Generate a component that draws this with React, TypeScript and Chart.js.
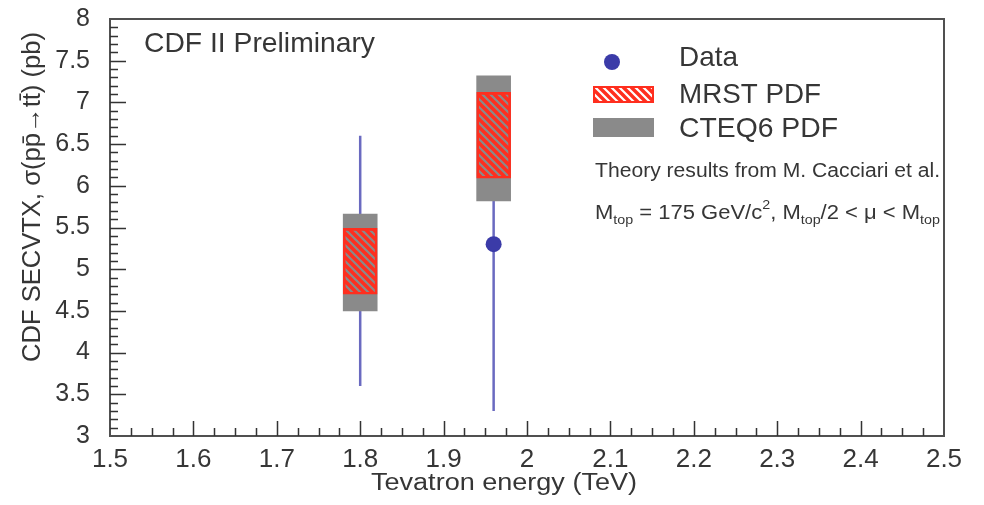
import React, { useEffect, useRef } from 'react';
import { Chart, registerables } from 'chart.js';

Chart.register(...registerables);

// Centre-of-mass energies (TeV)
const energies = [1.8, 1.96];
// Measured cross sections (pb) and their errors
const dataValues = [5.1, 5.3];
const dataErrLow = [1.5, 2.0];
const dataErrHigh = [1.5, 2.0];
// Theory bands (pb)
const cteqLow = [4.5, 5.82];
const cteqHigh = [5.66, 7.32];
const mrstLow = [4.7, 6.09];
const mrstHigh = [5.49, 7.12];
// Axis tick labels
const xTickLabels = ['1.5', '1.6', '1.7', '1.8', '1.9', '2', '2.1', '2.2', '2.3', '2.4', '2.5'];
const yTickLabels = ['3', '3.5', '4', '4.5', '5', '5.5', '6', '6.5', '7', '7.5', '8'];
const legendLabels = ['Data', 'MRST PDF', 'CTEQ6 PDF'];

const FONT = "'Liberation Sans', Arial, Helvetica, sans-serif";
const TEXT = '#363636';
const FRAME = '#505050';
const RED = '#ff2e1e';
const GRAY = '#8a8a8a';
const BLUE = '#3b3ba8';
const BAR_BLUE = '#6a6ac0';

function makeHatch(bg: string | null): CanvasPattern | string {
  const s = 8;
  const c = document.createElement('canvas');
  c.width = s;
  c.height = s;
  const g = c.getContext('2d');
  if (!g) return RED;
  if (bg) {
    g.fillStyle = bg;
    g.fillRect(0, 0, s, s);
  }
  g.strokeStyle = RED;
  g.lineWidth = 3.4;
  g.beginPath();
  g.moveTo(-2, -2);
  g.lineTo(s + 2, s + 2);
  g.moveTo(-2, s - 2);
  g.lineTo(2, s + 2);
  g.moveTo(s - 2, -2);
  g.lineTo(s + 2, 2);
  g.stroke();
  return g.createPattern(c, 'repeat') || RED;
}

type Run = { t: string; size: number; dy: number };

// Draw a sequence of text runs, squeezed or stretched to a given width
function drawRuns(ctx: CanvasRenderingContext2D, runs: Run[], x: number, y: number, width: number) {
  let total = 0;
  runs.forEach((r) => {
    ctx.font = `${r.size}px ${FONT}`;
    total += ctx.measureText(r.t).width;
  });
  const k = width / total;
  ctx.save();
  ctx.translate(x, y);
  ctx.scale(k, 1);
  ctx.textAlign = 'left';
  ctx.textBaseline = 'alphabetic';
  let cx = 0;
  runs.forEach((r) => {
    ctx.font = `${r.size}px ${FONT}`;
    ctx.fillText(r.t, cx, r.dy);
    cx += ctx.measureText(r.t).width;
  });
  ctx.restore();
}

function fitText(ctx: CanvasRenderingContext2D, t: string, size: number, x: number, y: number, width: number) {
  drawRuns(ctx, [{ t, size, dy: 0 }], x, y, width);
}

let legendHatch: CanvasPattern | string = RED;

const framePlugin = {
  id: 'cdfFrame',
  beforeDatasetsDraw(chart: any) {
    const ctx: CanvasRenderingContext2D = chart.ctx;
    const xs = chart.scales.x;
    const ys = chart.scales.y;
    ctx.save();
    ctx.strokeStyle = BAR_BLUE;
    ctx.lineWidth = 2.5;
    ctx.beginPath();
    energies.forEach((e, i) => {
      const px = xs.getPixelForValue(e);
      ctx.moveTo(px, ys.getPixelForValue(dataValues[i] - dataErrLow[i]));
      ctx.lineTo(px, ys.getPixelForValue(dataValues[i] + dataErrHigh[i]));
    });
    ctx.stroke();
    ctx.restore();
  },
  afterDraw(chart: any) {
    const ctx: CanvasRenderingContext2D = chart.ctx;
    const a = chart.chartArea;
    const xs = chart.scales.x;
    const ys = chart.scales.y;
    ctx.save();

    // frame
    ctx.strokeStyle = FRAME;
    ctx.lineWidth = 2;
    ctx.strokeRect(a.left, a.top, a.right - a.left, a.bottom - a.top);

    // inward ticks
    ctx.strokeStyle = '#333';
    ctx.lineWidth = 1.5;
    ctx.beginPath();
    const xStep = 0.025;
    const nx = Math.round((xs.max - xs.min) / xStep);
    for (let i = 1; i < nx; i++) {
      const px = Math.round(xs.getPixelForValue(xs.min + i * xStep)) + 0.5;
      const len = i % 4 === 0 ? 15 : 8;
      ctx.moveTo(px, a.bottom);
      ctx.lineTo(px, a.bottom - len);
    }
    const yStep = 0.1;
    const ny = Math.round((ys.max - ys.min) / yStep);
    for (let i = 1; i < ny; i++) {
      const py = Math.round(ys.getPixelForValue(ys.min + i * yStep)) + 0.5;
      const len = i % 5 === 0 ? 16 : 8;
      ctx.moveTo(a.left, py);
      ctx.lineTo(a.left + len, py);
    }
    ctx.stroke();

    ctx.fillStyle = TEXT;

    // header
    fitText(ctx, 'CDF II Preliminary', 28, 144, 52, 231);

    // axis titles
    fitText(ctx, 'Tevatron energy (TeV)', 23, 371, 490, 266);
    ctx.save();
    ctx.translate(40, 362);
    ctx.rotate(-Math.PI / 2);
    fitText(ctx, 'CDF SECVTX, \u03c3(pp\u0304\u2192tt\u0304) (pb)', 25, 0, 0, 330);
    ctx.restore();

    // legend
    ctx.fillStyle = BLUE;
    ctx.beginPath();
    ctx.arc(612, 62, 8, 0, Math.PI * 2);
    ctx.fill();

    ctx.fillStyle = '#ffffff';
    ctx.fillRect(594, 87, 59, 15);
    ctx.fillStyle = legendHatch;
    ctx.fillRect(594, 87, 59, 15);
    ctx.strokeStyle = RED;
    ctx.lineWidth = 2;
    ctx.strokeRect(594, 87, 59, 15);

    ctx.fillStyle = GRAY;
    ctx.fillRect(593, 118, 61, 19);

    ctx.fillStyle = TEXT;
    fitText(ctx, legendLabels[0], 28, 679, 66, 59);
    fitText(ctx, legendLabels[1], 28, 679, 103, 142);
    fitText(ctx, legendLabels[2], 28, 679, 137, 159);

    fitText(ctx, 'Theory results from M. Cacciari et al.', 20, 595, 177, 345);
    drawRuns(
      ctx,
      [
        { t: 'M', size: 20, dy: 0 },
        { t: 'top', size: 13, dy: 5 },
        { t: ' = 175 GeV/c', size: 20, dy: 0 },
        { t: '2', size: 13, dy: -10 },
        { t: ', M', size: 20, dy: 0 },
        { t: 'top', size: 13, dy: 5 },
        { t: '/2 < \u03bc < M', size: 20, dy: 0 },
        { t: 'top', size: 13, dy: 5 },
      ],
      595,
      219,
      345
    );

    ctx.restore();
  },
};

export default function App() {
  const ref = useRef<HTMLCanvasElement | null>(null);

  useEffect(() => {
    const canvas = ref.current;
    if (!canvas) return;
    legendHatch = makeHatch(null);
    const boxHatch = makeHatch(null);

    const chart = new Chart(canvas, {
      type: 'bar',
      data: {
        datasets: [
          {
            type: 'scatter',
            label: legendLabels[0],
            data: energies.map((x, i) => ({ x, y: dataValues[i] })),
            backgroundColor: BLUE,
            borderWidth: 0,
            pointRadius: 8,
            order: 3,
          } as any,
          {
            type: 'bar',
            label: legendLabels[2],
            data: energies.map((x, i) => ({ x, y: [cteqLow[i], cteqHigh[i]] })),
            backgroundColor: GRAY,
            borderWidth: 0,
            barThickness: 34,
            grouped: false,
            order: 2,
          } as any,
          {
            type: 'bar',
            label: legendLabels[1],
            data: energies.map((x, i) => ({ x, y: [mrstLow[i], mrstHigh[i]] })),
            backgroundColor: boxHatch,
            borderColor: RED,
            borderWidth: 2,
            borderSkipped: false,
            barThickness: 34,
            grouped: false,
            order: 1,
          } as any,
        ],
      },
      options: {
        responsive: false,
        animation: false,
        devicePixelRatio: 1,
        layout: { padding: { top: 19, right: 40, left: 0, bottom: 0 } },
        plugins: { legend: { display: false }, tooltip: { enabled: false } },
        scales: {
          x: {
            type: 'linear',
            min: 1.5,
            max: 2.5,
            offset: false,
            grid: { display: false, drawTicks: false },
            border: { display: false },
            afterBuildTicks: (s: any) => {
              s.ticks = xTickLabels.map((l) => ({ value: parseFloat(l) }));
            },
            ticks: {
              autoSkip: false,
              maxRotation: 0,
              padding: 8,
              color: TEXT,
              font: { family: FONT, size: 26 },
              callback: (_v: any, i: number) => xTickLabels[i],
            },
            afterFit: (s: any) => {
              s.height = 69;
              s.paddingLeft = 0;
              s.paddingRight = 0;
            },
          },
          y: {
            type: 'linear',
            min: 3,
            max: 8,
            grid: { display: false, drawTicks: false },
            border: { display: false },
            afterBuildTicks: (s: any) => {
              s.ticks = yTickLabels.map((l) => ({ value: parseFloat(l) }));
            },
            ticks: {
              padding: 20,
              color: TEXT,
              font: { family: FONT, size: 25 },
              callback: (_v: any, i: number) => yTickLabels[i],
            },
            afterFit: (s: any) => {
              s.width = 110;
              s.paddingTop = 0;
              s.paddingBottom = 0;
            },
          },
        } as any,
      },
      plugins: [framePlugin],
    });
    return () => chart.destroy();
  }, []);

  return (
    <div style={{ position: 'absolute', left: 0, top: 0, width: 984, height: 505, background: '#fff' }}>
      <canvas ref={ref} width={984} height={505} style={{ width: 984, height: 505, display: 'block' }} />
    </div>
  );
}
